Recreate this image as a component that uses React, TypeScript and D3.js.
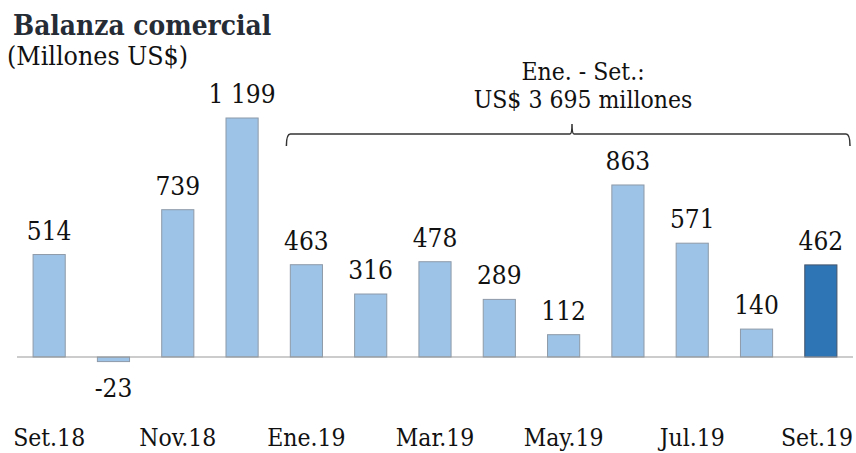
import React from "react";
import * as d3 from "d3";

const categories = ["Set.18","Oct.18","Nov.18","Dic.18","Ene.19","Feb.19","Mar.19","Abr.19","May.19","Jun.19","Jul.19","Ago.19","Set.19"];
const values = [514, -23, 739, 1199, 463, 316, 478, 289, 112, 863, 571, 140, 462];
const valueLabels = ["514","-23","739","1 199","463","316","478","289","112","863","571","140","462"];
const tickLabels = ["Set.18","Nov.18","Ene.19","Mar.19","May.19","Jul.19","Set.19"];
const title = "Balanza comercial";
const subtitle = "(Millones US$)";
const bracketLines = ["Ene. - Set.:", "US$ 3 695 millones"];
const bracketFrom = "Ene.19";

const W = 856, H = 453;
const FONT = "DejaVu Serif Condensed, DejaVu Serif, serif";

export default function App() {
  const x = d3.scaleBand().domain(categories).range([17, 853]).paddingInner(0.5).paddingOuter(0.25);
  const y = d3.scaleLinear().domain([0, 1199]).range([357, 118]);
  const bw = x.bandwidth();
  const bx0 = x(bracketFrom)! + bw / 2 - 20;
  const bx1 = 850;
  const bmid = 572;
  const by = 134;
  return (
    <svg width={W} height={H} style={{ position: "absolute", left: 0, top: 0, background: "#fff" }}>
      <text x={13} y={35} fontFamily={FONT} fontWeight="bold" fontSize={27.8} fill="#262c36">{title}</text>
      <text x={7} y={65} fontFamily={FONT} fontSize={26.5} fill="#111">{subtitle}</text>
      {categories.map((c, i) => {
        const v = values[i];
        const top = y(Math.max(0, v));
        const bot = y(Math.min(0, v));
        const last = i === categories.length - 1;
        return (
          <g key={c}>
            <rect x={x(c)!} y={top} width={bw} height={bot - top}
              fill={last ? "#2e75b6" : "#9dc3e6"} stroke={last ? "#44546a" : "#8e9aa8"} strokeWidth={1} />
            <text x={x(c)! + bw / 2} y={v >= 0 ? top - 15 : bot + 35} textAnchor="middle"
              fontFamily={FONT} fontSize={26} fill="#111">{valueLabels[i]}</text>
          </g>
        );
      })}
      <line x1={17} x2={853} y1={y(0)} y2={y(0)} stroke="#9a9a9a" strokeWidth={1.2} />
      {tickLabels.map((tl, i) => {
        const last = i === tickLabels.length - 1;
        return (
          <text key={tl} x={last ? 853 : x(tl)! + bw / 2} y={446} textAnchor={last ? "end" : "middle"}
            fontFamily={FONT} fontSize={24.5} fill="#111">{tl}</text>
        );
      })}
      <path d={`M${bx0},${by + 12} Q${bx0},${by} ${bx0 + 4},${by} L${bmid - 2},${by} Q${bmid},${by} ${bmid},${by - 10} Q${bmid},${by} ${bmid + 2},${by} L${bx1 - 4},${by} Q${bx1},${by} ${bx1},${by + 12}`}
        fill="none" stroke="#333" strokeWidth={1.5} />
      <text x={583} y={80} textAnchor="middle" fontFamily={FONT} fontSize={24.5} fill="#111">{bracketLines[0]}</text>
      <text x={583} y={108} textAnchor="middle" fontFamily={FONT} fontSize={24.5} fill="#111">{bracketLines[1]}</text>
    </svg>
  );
}
